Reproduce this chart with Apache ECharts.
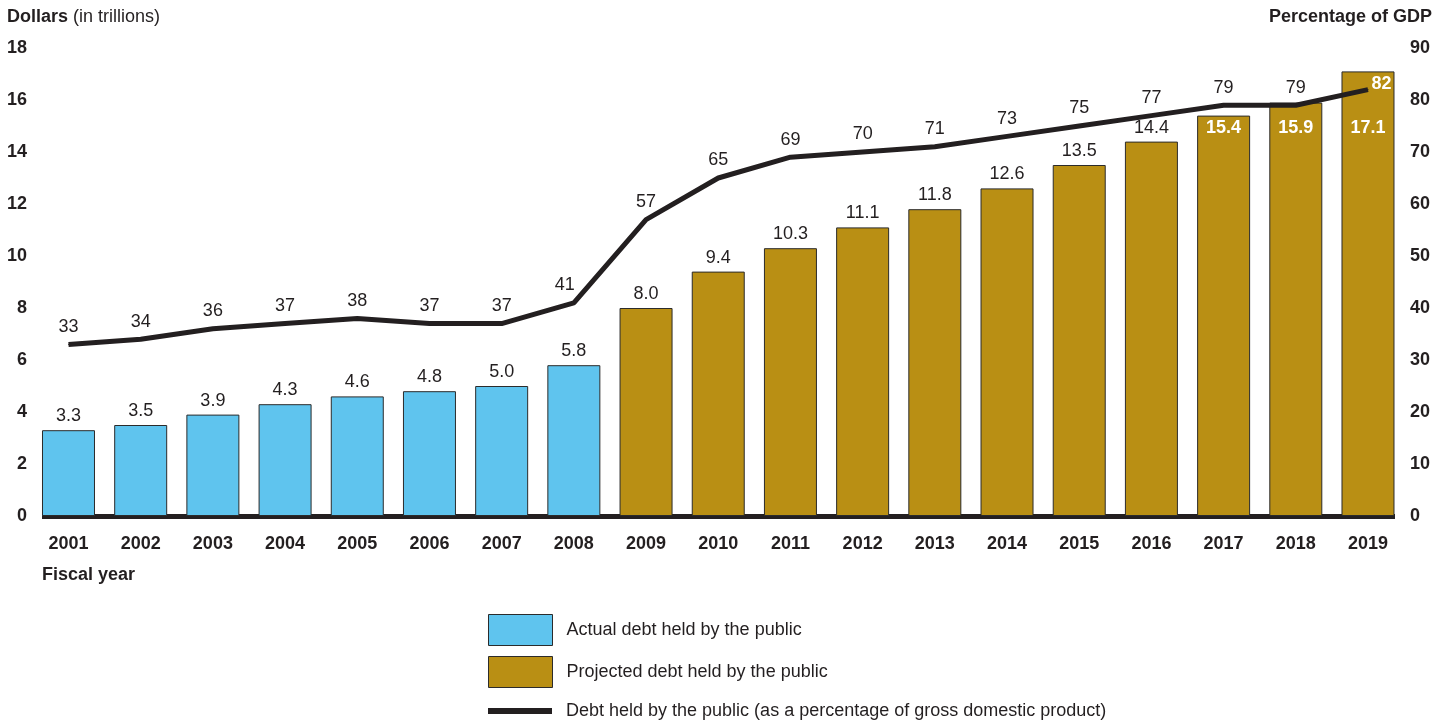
<!DOCTYPE html>
<html>
<head>
<meta charset="utf-8">
<script src="https://cdn.jsdelivr.net/npm/echarts@6/dist/echarts.min.js"></script>
<style>
  html, body { margin: 0; padding: 0; background: #fff; }
  #chart { width: 1449px; height: 721px; }
</style>
</head>
<body>
<div id="chart"></div>
<script>
// Fiscal years and debt held by the public
const years = [2001, 2002, 2003, 2004, 2005, 2006, 2007, 2008, 2009, 2010,
               2011, 2012, 2013, 2014, 2015, 2016, 2017, 2018, 2019];
const actualYears = [2001, 2002, 2003, 2004, 2005, 2006, 2007, 2008];
const actualDebt = [3.3, 3.5, 3.9, 4.3, 4.6, 4.8, 5.0, 5.8];        // trillions of dollars
const projectedYears = [2009, 2010, 2011, 2012, 2013, 2014, 2015, 2016, 2017, 2018, 2019];
const projectedDebt = [8.0, 9.4, 10.3, 11.1, 11.8, 12.6, 13.5, 14.4, 15.4, 15.9, 17.1];
const debtPctGdp = [33, 34, 36, 37, 38, 37, 37, 41, 57, 65, 69, 70, 71, 73, 75, 77, 79, 79, 82];
const dollarTicks = [0, 18, 2];   // min, max, interval
const pctTicks = [0, 90, 10];

const INK = '#231f20';
const FONT = '"Liberation Sans", Arial, sans-serif';

// Tall bars carry their value inside, in white, lined up on one row
// (px distance below each bar top).
const insideLabelGap = { 2017: 3, 2018: 16, 2019: 48 };

function barData(xs, vals) {
  return xs.map((y, i) => {
    const item = { value: [y, vals[i]] };
    if (y in insideLabelGap) {
      item.label = {
        show: true, position: 'insideTop', distance: insideLabelGap[y],
        color: '#fff', fontWeight: 'bold', fontSize: 18, fontFamily: FONT
      };
    }
    return item;
  });
}

const lineData = years.map((y, i) => {
  const item = { value: [y, debtPctGdp[i]] };
  if (y === 2008) {
    item.label = { show: true, offset: [-9, 0] };
  }
  if (y === 2019) {
    item.label = { show: true, position: 'right', distance: 3, offset: [0, -6],
                   color: '#fff', fontWeight: 'bold', fontSize: 18 };
  }
  return item;
});

const barLabel = {
  show: true, position: 'top', distance: 5,
  color: INK, fontSize: 18, fontFamily: FONT,
  formatter: p => p.value[1].toFixed(1)
};

const legendText = { fontSize: 18, color: INK, fontFamily: FONT, padding: [0, 0, 0, 9] };
const LINE_NAME = 'Debt held by the public (as a percentage of gross domestic product)';

const chart = echarts.init(document.getElementById('chart'));
chart.setOption({
  animation: false,
  textStyle: { fontFamily: FONT, color: INK },
  title: [
    {
      left: 7, top: 8, padding: 0,
      text: '{b|Dollars} {n|(in trillions)}',
      textStyle: {
        rich: {
          b: { fontSize: 18, fontWeight: 'bold', color: INK, fontFamily: FONT },
          n: { fontSize: 18, fontWeight: 'normal', color: INK, fontFamily: FONT }
        }
      }
    },
    {
      right: 17, top: 8, padding: 0, text: 'Percentage of GDP',
      textStyle: { fontSize: 18, fontWeight: 'bold', color: INK, fontFamily: FONT }
    },
    {
      left: 42, top: 566, padding: 0, text: 'Fiscal year',
      textStyle: { fontSize: 18, fontWeight: 'bold', color: INK, fontFamily: FONT }
    }
  ],
  legend: [
    {
      orient: 'vertical', left: 488, top: 614, padding: 0,
      itemWidth: 64, itemHeight: 31, itemGap: 10,
      icon: 'rect',
      itemStyle: { borderWidth: 1, borderColor: '#2b2b2b' },
      textStyle: legendText,
      data: ['Actual debt held by the public', 'Projected debt held by the public']
    },
    {
      orient: 'vertical', left: 488, top: 702, padding: 0,
      itemWidth: 64, itemHeight: 20,
      textStyle: legendText,
      data: [{ name: LINE_NAME, icon: 'path://M0,0h64v6h-64z' }]
    }
  ],
  grid: { left: 42, right: 54, top: 48, bottom: 205 },
  xAxis: {
    type: 'value', min: 2000.633, max: 2019.374,
    splitLine: { show: false },
    axisTick: { show: false },
    axisLine: { show: true, onZero: true, lineStyle: { color: INK, width: 5, cap: 'butt' } },
    axisLabel: {
      customValues: years, margin: 19,
      fontSize: 18, fontWeight: 'bold', color: INK, fontFamily: FONT,
      formatter: v => String(v)
    }
  },
  yAxis: [
    {
      type: 'value', min: dollarTicks[0], max: dollarTicks[1], interval: dollarTicks[2],
      splitLine: { show: false }, axisLine: { show: false }, axisTick: { show: false },
      axisLabel: { margin: 15, fontSize: 18, fontWeight: 'bold', color: INK, fontFamily: FONT }
    },
    {
      type: 'value', min: pctTicks[0], max: pctTicks[1], interval: pctTicks[2],
      splitLine: { show: false }, axisLine: { show: false }, axisTick: { show: false },
      axisLabel: { margin: 15, fontSize: 18, fontWeight: 'bold', color: INK, fontFamily: FONT }
    }
  ],
  series: [
    {
      name: 'Actual debt held by the public',
      type: 'bar', barWidth: 53, barGap: '-100%',
      itemStyle: { color: '#5fc4ee', borderColor: '#2b2b2b', borderWidth: 1 },
      label: barLabel,
      data: barData(actualYears, actualDebt)
    },
    {
      name: 'Projected debt held by the public',
      type: 'bar', barWidth: 53, barGap: '-100%',
      itemStyle: { color: '#b98f14', borderColor: '#2b2b2b', borderWidth: 1 },
      label: barLabel,
      data: barData(projectedYears, projectedDebt)
    },
    {
      name: LINE_NAME,
      type: 'line', yAxisIndex: 1,
      symbol: 'circle', symbolSize: 1, showSymbol: true,
      lineStyle: { color: INK, width: 5 },
      itemStyle: { color: INK },
      label: { show: true, position: 'top', distance: 8, color: INK, fontSize: 18, fontFamily: FONT },
      z: 5,
      data: lineData
    }
  ]
});
</script>
</body>
</html>
